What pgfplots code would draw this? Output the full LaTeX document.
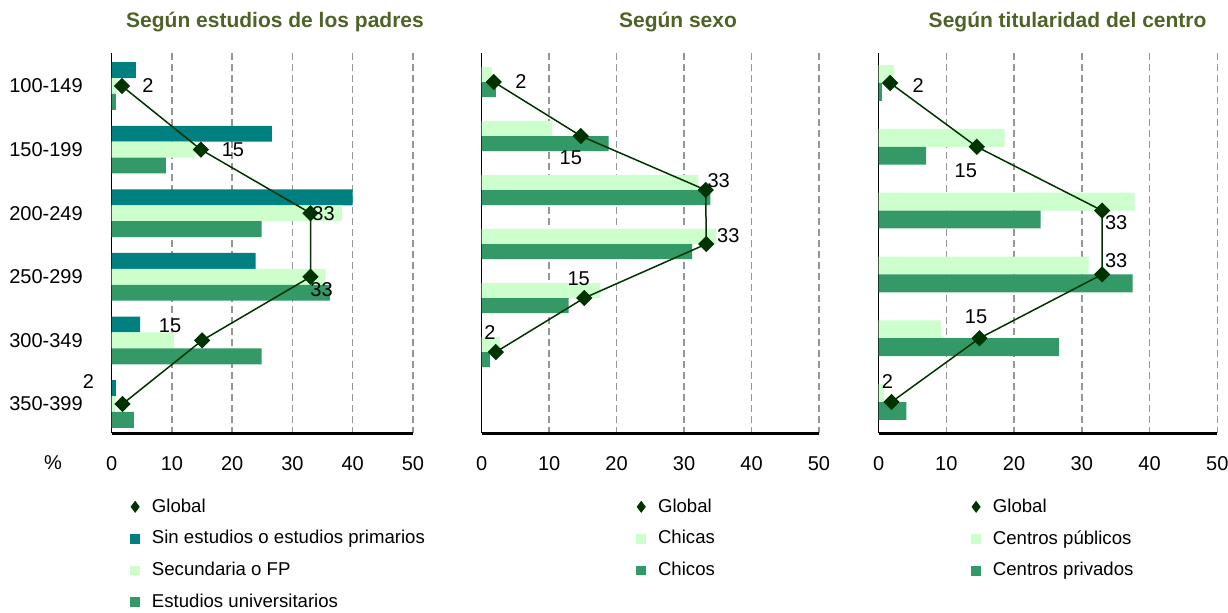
\documentclass[border=0pt]{standalone}
\usepackage{pgfplots}
\pgfplotsset{compat=1.18}
\usepackage{pgfplotstable}
\usepackage{fontspec}
\setmainfont{Liberation Sans}

\definecolor{cteal}{RGB}{0,128,128}
\definecolor{clight}{RGB}{204,255,204}
\definecolor{cgreen}{RGB}{51,153,102}
\definecolor{cglob}{RGB}{0,51,0}
\definecolor{ctitle}{RGB}{79,98,40}
\definecolor{cgrid}{RGB}{150,150,150}

% Según estudios de los padres: a = sin estudios/primarios, b = secundaria/FP, c = universitarios
\pgfplotstableread{
cat a b c
1 4.0 1.0 0.7
2 26.6 13.8 9.0
3 40.0 38.2 24.9
4 23.9 35.5 36.2
5 4.7 10.3 24.9
6 0.7 0.6 3.7
}\padres
\pgfplotstableread{
cat g lab dx dy
1 1.7 2 13 0
2 14.8 15 16 0
3 33.0 33 6.5 0
4 33.0 33 5.5 -6.5
5 15.0 15 -16 7.5
6 1.8 2 -17 11
}\gpadres
% Según sexo: a = chicas, b = chicos
\pgfplotstableread{
cat a b
1 1.5 2.1
2 10.4 18.8
3 32.1 33.9
4 34.8 31.2
5 17.6 12.9
6 2.7 1.2
}\sexo
\pgfplotstableread{
cat g lab dx dy
1 1.8 2 13.5 0
2 14.7 15 -5 -11
3 33.2 33 6.5 4.5
4 33.3 33 11 4
5 15.2 15 -2.75 9.5
6 2.1 2 -3 9.5
}\gsexo
% Según titularidad: a = públicos, b = privados
\pgfplotstableread{
cat a b
1 2.3 0.5
2 18.6 7.0
3 37.8 23.9
4 31.0 37.5
5 9.2 26.6
6 0.8 4.1
}\titul
\pgfplotstableread{
cat g lab dx dy
1 1.7 2 14 -1.5
2 14.5 15 -5.5 -12
3 33.0 33 7 -6
4 33.0 33 7 7
5 14.9 15 -1.75 10.5
6 1.9 2 -2 10
}\gtitul

\pgfplotsset{
  panel/.style={
    scale only axis, height=190pt,
    xmin=0, xmax=50, xtick={0,10,20,30,40,50},
    y dir=reverse,
    axis x line*=bottom, axis y line*=left,
    axis line style={-},
    x axis line style={line width=1.5pt,-},
    y axis line style={line width=0.7pt,-},
    xmajorgrids,
    grid style={cgrid, line width=0.75pt, dash pattern=on 3.5pt off 2pt},
    major tick length=0pt,
    ytick=\empty,
    xticklabel style={anchor=north, inner sep=0pt, yshift=-11.5pt, font=\fontsize{10}{12}\selectfont},
    /pgf/number format/assume math mode=true,
    clip=false,
    legend style={draw=none, fill=none, anchor=north west,
      font=\fontsize{9.3}{11}\selectfont, row sep=7.65pt, column sep=6.2pt,
      nodes={inner sep=0pt}},
    legend cell align=left,
    title style={font=\bfseries\fontsize{10.5}{12}\selectfont, text=ctitle, anchor=center},
  },
  glob/.style={cglob, line width=0.75pt, mark=square*, mark size=2.5pt,
    mark options={rotate=45, fill=cglob, draw=cglob, solid},
    nodes near coords, point meta=explicit symbolic,
    visualization depends on={\thisrow{dx}\as\dx},
    visualization depends on={\thisrow{dy}\as\dy},
    every node near coord/.append style={anchor=center, xshift=\dx pt, yshift=\dy pt,
      inner sep=0pt, text=black, font=\fontsize{10}{12}\selectfont},
    forget plot},
  legglob/.style={only marks, mark=diamond*, mark size=2.7pt, cglob, mark options={fill=cglob, draw=cglob}},
  legsq/.style={only marks, mark=square*, mark size=2.2pt, #1, mark options={draw=#1, fill=#1}},
}

\begin{document}
\begin{tikzpicture}
\useasboundingbox (0,0) rectangle (614pt,306pt);

% ---------------- Panel 1 ----------------
\begin{axis}[panel, at={(55.85pt,89.5pt)}, anchor=south west, width=150.65pt,
  ymin=0.481, ymax=6.456,
  ytick={1,2,3,4,5,6},
  yticklabels={100-149,150-199,200-249,250-299,300-349,350-399},
  yticklabel style={anchor=east, inner sep=0pt, xshift=-14.3pt, font=\fontsize{10}{12}\selectfont},
  title={Según estudios de los padres},
  title style={at={(axis description cs:0.542,1.05)}},
  legend style={at={(axis description cs:0.042,-0.161)}},
]
\addlegendimage{legglob}
\addlegendentry{Global}
\addlegendimage{legsq=cteal}
\addlegendentry{Sin estudios o estudios primarios}
\addlegendimage{legsq=clight}
\addlegendentry{Secundaria o FP}
\addlegendimage{legsq=cgreen}
\addlegendentry{Estudios universitarios}
\addplot[xbar, bar width=0.25, bar shift=-0.25, fill=cteal, draw=none, forget plot] table[x=a, y=cat] {\padres};
\addplot[xbar, bar width=0.25, bar shift=0, fill=clight, draw=none, forget plot] table[x=b, y=cat] {\padres};
\addplot[xbar, bar width=0.25, bar shift=0.25, fill=cgreen, draw=none, forget plot] table[x=c, y=cat] {\padres};
\addplot[glob] table[x=g, y=cat, meta=lab] {\gpadres};
\node[font=\fontsize{10}{12}\selectfont, anchor=center] at ([yshift=-15pt]axis description cs:-0.195,0) {\%};
\end{axis}

% ---------------- Panel 2 ----------------
\begin{axis}[panel, at={(240.85pt,89.5pt)}, anchor=south west, width=168.65pt,
  ymin=0.463, ymax=7.5,
  title={Según sexo},
  title style={at={(axis description cs:0.582,1.05)}},
  legend style={at={(axis description cs:0.441,-0.161)}},
]
\addlegendimage{legglob}
\addlegendentry{Global}
\addlegendimage{legsq=clight}
\addlegendentry{Chicas}
\addlegendimage{legsq=cgreen}
\addlegendentry{Chicos}
\addplot[xbar, bar width=0.28, bar shift=-0.14, fill=clight, draw=none, forget plot] table[x=a, y=cat] {\sexo};
\addplot[xbar, bar width=0.28, bar shift=0.14, fill=cgreen, draw=none, forget plot] table[x=b, y=cat] {\sexo};
\addplot[glob] table[x=g, y=cat, meta=lab] {\gsexo};
\end{axis}

% ---------------- Panel 3 ----------------
\begin{axis}[panel, at={(439.3pt,89.5pt)}, anchor=south west, width=169.35pt,
  ymin=0.53, ymax=6.486,
  title={Según titularidad del centro},
  title style={at={(axis description cs:0.558,1.05)}},
  legend style={at={(axis description cs:0.256,-0.161)}},
]
\addlegendimage{legglob}
\addlegendentry{Global}
\addlegendimage{legsq=clight}
\addlegendentry{Centros públicos}
\addlegendimage{legsq=cgreen}
\addlegendentry{Centros privados}
\addplot[xbar, bar width=0.28, bar shift=-0.14, fill=clight, draw=none, forget plot] table[x=a, y=cat] {\titul};
\addplot[xbar, bar width=0.28, bar shift=0.14, fill=cgreen, draw=none, forget plot] table[x=b, y=cat] {\titul};
\addplot[glob] table[x=g, y=cat, meta=lab] {\gtitul};
\end{axis}
\end{tikzpicture}
\end{document}
